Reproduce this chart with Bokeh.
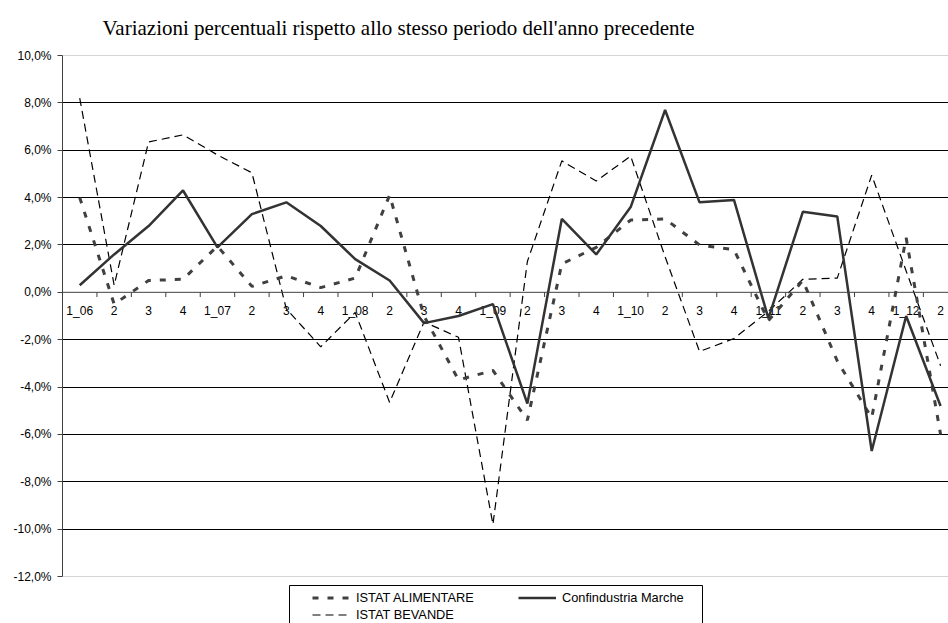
from bokeh.plotting import figure
from bokeh.models import (Range1d, FixedTicker, Legend, LegendItem, BoxAnnotation,
                          LinearAxis, Grid, Span, Label)
from bokeh.core.properties import value
from bokeh.embed import file_html
from bokeh.resources import INLINE

labels = ["1_06", "2", "3", "4", "1_07", "2", "3", "4", "1_08", "2", "3", "4",
          "1_09", "2", "3", "4", "1_10", "2", "3", "4", "1_11", "2", "3", "4",
          "1_12", "2"]

confindustria = [0.3, 1.6, 2.8, 4.3, 1.9, 3.3, 3.8, 2.8, 1.4, 0.5, -1.3, -1.0,
                 -0.5, -4.7, 3.1, 1.6, 3.6, 7.7, 3.8, 3.9, -1.1, 3.4, 3.2, -6.7,
                 -1.0, -4.8]
alimentare = [4.0, -0.5, 0.5, 0.55, 1.95, 0.25, 0.7, 0.2, 0.6, 4.1, -1.0, -3.7,
              -3.3, -5.4, 1.2, 1.9, 3.05, 3.1, 2.0, 1.8, -1.2, 0.5, -2.9, -5.3,
              2.3, -6.0]
bevande = [8.2, 0.3, 6.35, 6.65, 5.8, 5.05, -0.7, -2.3, -0.85, -4.65, -1.25, -1.9,
           -9.8, 1.3, 5.55, 4.7, 5.75, 1.5, -2.5, -1.95, -0.8, 0.55, 0.6, 4.95,
           0.9, -3.1]

y_ticks = [-12, -10, -8, -6, -4, -2, 0, 2, 4, 6, 8, 10]
y_min, y_max = -12, 10

title_text = "Variazioni percentuali rispetto allo stesso periodo dell'anno precedente"

xs = list(range(len(labels)))
bounds = [i - 0.5 for i in range(len(labels) + 1)]

W, H = 948, 623
top_px, bottom_px, left = 55, 576, 62
px_per_unit = (bottom_px - top_px) / (y_max - y_min)
y_bottom = y_min - (H - bottom_px) / px_per_unit
y_top = y_max + top_px / px_per_unit

p = figure(width=W, height=H, output_backend="svg", toolbar_location=None,
           x_range=Range1d(-0.5, 25.23), y_range=Range1d(y_bottom, y_top),
           min_border_left=left, min_border_right=0, min_border_top=0,
           min_border_bottom=0, x_axis_type=None, y_axis_type=None)
p.background_fill_color = "white"
p.border_fill_color = "white"
p.outline_line_color = None

title = Label(x=102, y=27, x_units="canvas", y_units="canvas", text=title_text,
              text_font="Liberation Serif", text_font_size="21px",
              text_color="black", text_baseline="alphabetic", text_align="left")
p.add_layout(title)

# y axis
yaxis = LinearAxis(ticker=FixedTicker(ticks=y_ticks), bounds=(y_min, y_max))
yaxis.major_label_overrides = {t: f"{t:.1f}%".replace(".", ",") for t in y_ticks}
yaxis.major_label_text_font = "Liberation Sans"
yaxis.major_label_text_font_size = "12px"
yaxis.major_label_text_color = "black"
yaxis.major_tick_out = 5
yaxis.major_tick_in = 0
yaxis.minor_tick_out = 0
yaxis.minor_tick_in = 0
yaxis.major_label_standoff = 6
yaxis.axis_line_color = "#404040"
yaxis.major_tick_line_color = "#404040"
p.add_layout(yaxis, "left")

p.xgrid.visible = False
p.ygrid.visible = False
p.add_layout(Grid(dimension=1, ticker=FixedTicker(ticks=[-10, -8, -6, -4, -2, 2, 4, 6, 8]),
                  grid_line_color="black", grid_line_width=1))
p.add_layout(Grid(dimension=1, ticker=FixedTicker(ticks=[y_min, y_max]),
                  grid_line_color="#d4d4d4", grid_line_width=1))

# zero line acting as category axis
p.add_layout(Span(location=0, dimension="width", line_color="#404040", line_width=1))
p.segment(x0=bounds, y0=[0] * len(bounds), x1=bounds, y1=[-0.2] * len(bounds),
          line_color="#404040", line_width=1)
p.text(x=xs, y=[0] * len(xs), text=labels, y_offset=18.5,
       text_font=value("Liberation Sans"), text_font_size="12px",
       text_align="center", text_baseline="middle", text_color="black")

r_bev = p.line(xs, bevande, line_color="black", line_width=1.2, line_dash="8 5")
r_ali = p.line(xs, alimentare, line_color="#404040", line_width=3, line_dash="6 9")
r_con = p.line(xs, confindustria, line_color="#333333", line_width=2.5)

legend = Legend(items=[
    LegendItem(label="ISTAT ALIMENTARE", renderers=[r_ali]),
    LegendItem(label="Confindustria Marche", renderers=[r_con]),
    LegendItem(label="ISTAT BEVANDE", renderers=[r_bev]),
], orientation="horizontal", ncols=2)
legend.location = (246, -4)
legend.padding = 4
legend.spacing = 0
legend.glyph_width = 38
legend.glyph_height = 17
legend.label_height = 17
legend.label_width = 162
legend.label_standoff = 6
legend.label_text_font = "Liberation Sans"
legend.label_text_font_size = "12.8px"
legend.label_text_color = "black"
legend.background_fill_alpha = 0
legend.border_line_alpha = 0
legend.margin = 0
p.add_layout(legend)

box = BoxAnnotation(left=289, right=702, top=585, bottom=H + 20,
                    left_units="canvas", right_units="canvas",
                    top_units="canvas", bottom_units="canvas",
                    fill_alpha=0, line_color="black", line_width=1, line_alpha=1)
p.add_layout(box)

open("out.html", "w").write(file_html(p, INLINE))
